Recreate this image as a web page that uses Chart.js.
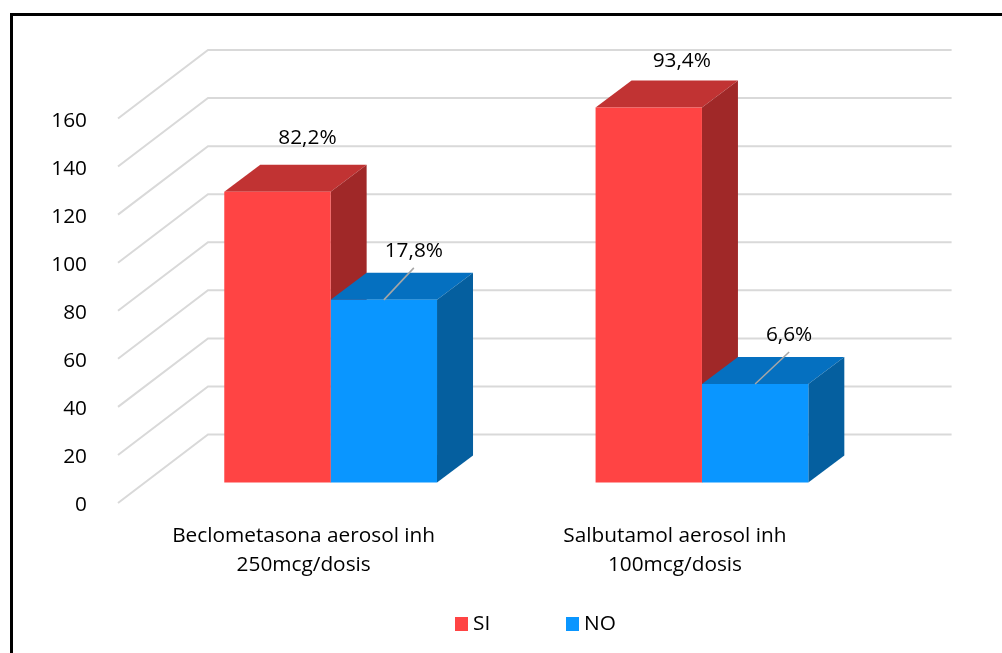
<!DOCTYPE html>
<html lang="es">
<head>
<meta charset="utf-8">
<title>Broncodilatadores</title>
<script src="https://cdn.jsdelivr.net/npm/chart.js@4"></script>
<style>
  html, body { margin: 0; background: #fff; overflow: hidden; }
  #marco { position: absolute; left: 10px; top: 13px; right: 0; bottom: 0; border-left: 3px solid #000; border-top: 3px solid #000; }
  canvas { position: absolute; left: 0; top: 0; }
</style>
</head>
<body>
<div id="marco"></div>
<canvas id="grafica" width="1002" height="653"></canvas>
<script>
// Datos
const categorias = [["Beclometasona aerosol inh", "250mcg/dosis"], ["Salbutamol aerosol inh", "100mcg/dosis"]];
const valoresSi = [121, 156];
const valoresNo = [76, 41];
const etiquetasSi = ["82,2%", "93,4%"];
const etiquetasNo = ["17,8%", "6,6%"];
const ticksY = [0, 20, 40, 60, 80, 100, 120, 140, 160];

const FUENTE = "'Open Sans', sans-serif";
const TAM = 20.8;

// Profundidad de la pared del fondo y de las barras
const PARED = { x: 90, y: -68.5 };
const BARRA = { x: 36, y: -27 };
const DESPLAZA = { x: 27, y: -20.5 };

// Colores: frente, tapa, lateral
const tonos = [
  { frente: "#ff4444", tapa: "#c13333", lado: "#a02828" },
  { frente: "#0a96ff", tapa: "#0570c0", lado: "#055f9f" }
];

// Posicion de cada etiqueta respecto a la tapa de su barra
const posEtiquetas = [
  [[30, -54], [33, -47]],
  [[30, -49], [34, -49]]
];

function poligono(ctx, puntos, color) {
  ctx.fillStyle = color;
  ctx.beginPath();
  puntos.forEach((p, i) => i ? ctx.lineTo(p[0], p[1]) : ctx.moveTo(p[0], p[1]));
  ctx.closePath();
  ctx.fill();
}

// Rejilla en escuadra: pared lateral + pared del fondo
const rejilla3d = {
  id: "rejilla3d",
  beforeDatasetsDraw(chart) {
    const { ctx, chartArea, scales } = chart;
    ctx.save();
    ctx.strokeStyle = "#d9d9d9";
    ctx.lineWidth = 2;
    scales.y.ticks.forEach(t => {
      const y = scales.y.getPixelForValue(t.value);
      ctx.beginPath();
      ctx.moveTo(chartArea.left, y);
      ctx.lineTo(chartArea.left + PARED.x, y + PARED.y);
      ctx.lineTo(chartArea.right + PARED.x + 1, y + PARED.y);
      ctx.stroke();
    });
    ctx.restore();
  }
};

// Barras en volumen: tapa y lateral van antes, el frente lo dibuja Chart.js encima
const barras3d = {
  id: "barras3d",
  beforeDatasetsDraw(chart) {
    const ctx = chart.ctx;
    ctx.save();
    ctx.translate(DESPLAZA.x, DESPLAZA.y);
    chart.data.datasets.forEach((ds, i) => {
      const tono = tonos[i];
      chart.getDatasetMeta(i).data.forEach(b => {
        const izq = b.x - b.width / 2, der = b.x + b.width / 2;
        poligono(ctx, [[izq, b.y], [izq + BARRA.x, b.y + BARRA.y], [der + BARRA.x, b.y + BARRA.y], [der, b.y]], tono.tapa);
        poligono(ctx, [[der, b.y], [der + BARRA.x, b.y + BARRA.y], [der + BARRA.x, b.base + BARRA.y], [der, b.base]], tono.lado);
      });
    });
    ctx.restore();
  },
  beforeDatasetDraw(chart) {
    chart.ctx.save();
    chart.ctx.translate(DESPLAZA.x, DESPLAZA.y);
  },
  afterDatasetDraw(chart) {
    chart.ctx.restore();
  }
};

// Porcentajes sobre las barras, con linea guia en la serie NO
const etiquetas = {
  id: "etiquetas",
  afterDatasetsDraw(chart) {
    const ctx = chart.ctx;
    const textos = [etiquetasSi, etiquetasNo];
    ctx.save();
    ctx.font = TAM + "px " + FUENTE;
    ctx.textAlign = "center";
    ctx.textBaseline = "middle";
    chart.data.datasets.forEach((ds, i) => {
      chart.getDatasetMeta(i).data.forEach((b, j) => {
        const x = b.x + DESPLAZA.x, y = b.y + DESPLAZA.y;
        const [dx, dy] = posEtiquetas[i][j];
        if (i === 1) {
          ctx.strokeStyle = "#a6a6a6";
          ctx.lineWidth = 1.5;
          ctx.beginPath();
          ctx.moveTo(x, y);
          ctx.lineTo(x + dx, y + dy + 17);
          ctx.stroke();
        }
        ctx.fillStyle = "#000";
        ctx.fillText(textos[i][j], x + dx, y + dy);
      });
    });
    ctx.restore();
  }
};

// Leyenda inferior
const leyenda = {
  id: "leyenda",
  afterDraw(chart) {
    const ctx = chart.ctx;
    const xs = [455, 566];
    ctx.save();
    ctx.font = TAM + "px " + FUENTE;
    ctx.textBaseline = "middle";
    chart.data.datasets.forEach((ds, i) => {
      ctx.fillStyle = ds.backgroundColor;
      ctx.fillRect(xs[i], 617, 13, 14);
      ctx.fillStyle = "#000";
      ctx.fillText(ds.label, xs[i] + 18, 624);
    });
    ctx.restore();
  }
};

new Chart(document.getElementById("grafica"), {
  type: "bar",
  data: {
    labels: categorias,
    datasets: [
      { label: "SI", data: valoresSi, backgroundColor: tonos[0].frente, clip: false },
      { label: "NO", data: valoresNo, backgroundColor: tonos[1].frente, clip: false }
    ]
  },
  options: {
    responsive: false,
    animation: false,
    layout: { padding: { left: 0, right: 141.4, top: 118.5, bottom: 50 } },
    datasets: { bar: { categoryPercentage: 0.573, barPercentage: 1 } },
    plugins: { legend: { display: false }, tooltip: { enabled: false } },
    scales: {
      x: {
        afterFit(s) { s.height = 100; },
        grid: { display: false },
        border: { display: false },
        ticks: {
          color: "#000",
          padding: 11,
          maxRotation: 0,
          autoSkip: false,
          font: { family: FUENTE, size: TAM, lineHeight: 1.395 }
        }
      },
      y: {
        min: 0,
        max: 160,
        afterFit(s) { s.width = 118; },
        afterBuildTicks(s) { s.ticks = ticksY.map(v => ({ value: v })); },
        grid: { display: false },
        border: { display: false },
        ticks: { color: "#000", padding: 23, labelOffset: 2.5, font: { family: FUENTE, size: TAM } }
      }
    }
  },
  plugins: [rejilla3d, barras3d, etiquetas, leyenda]
});
</script>
</body>
</html>
